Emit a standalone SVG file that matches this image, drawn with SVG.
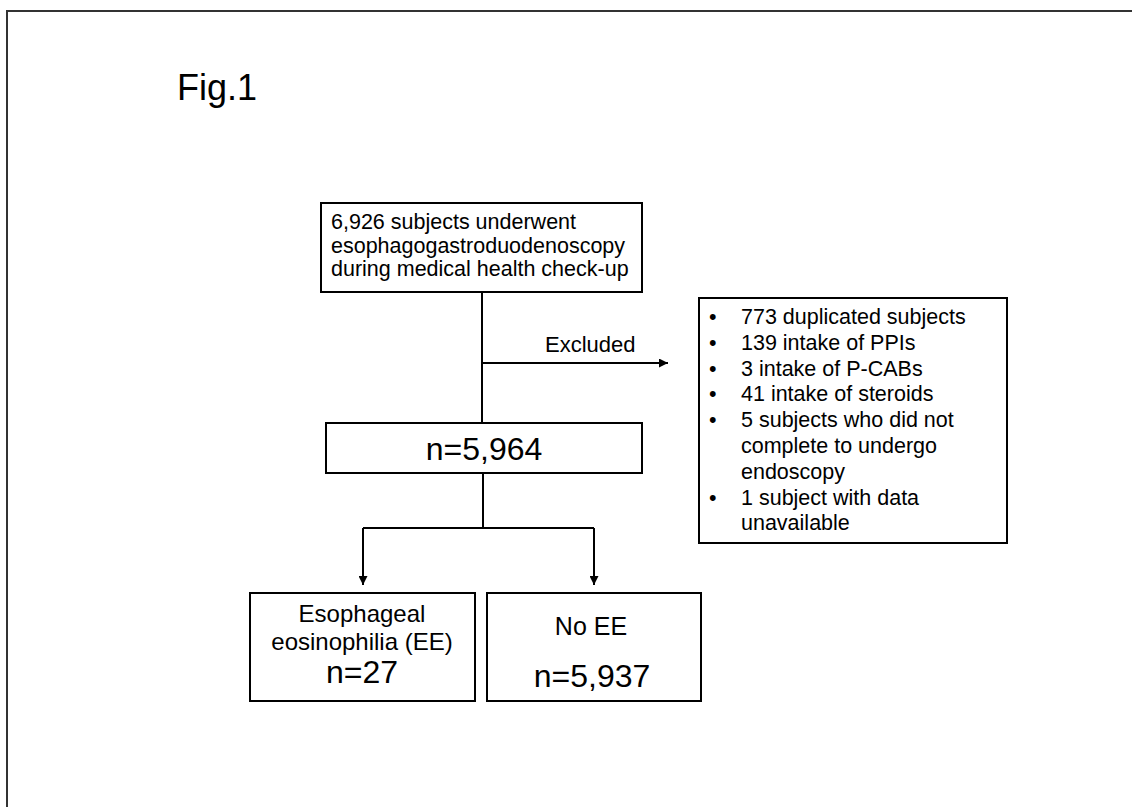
<svg xmlns="http://www.w3.org/2000/svg" width="1132" height="807" viewBox="0 0 1132 807">
<style>
  text { font-family: "Liberation Sans", Arial, sans-serif; fill: #000; }
  .box { fill: #fff; stroke: #000; stroke-width: 2; }
  .conn { fill: none; stroke: #000; stroke-width: 2; }
</style>
<defs>
  <marker id="arr" viewBox="0 0 10 10" refX="10" refY="5" markerWidth="9" markerHeight="9" markerUnits="userSpaceOnUse" orient="auto">
    <path d="M0,0 L10,5 L0,10 z" fill="#000"/>
  </marker>
</defs>
<rect width="1132" height="807" fill="#fff"/>
<path d="M7,807 V11 H1132" fill="none" stroke="#333" stroke-width="2"/>
<text x="177" y="100" font-size="36">Fig.1</text>

<g id="connectors">
  <path class="conn" d="M482,292 V423"/>
  <path class="conn" d="M482,363 H668" marker-end="url(#arr)"/>
  <path class="conn" d="M483,473 V528"/>
  <path class="conn" d="M363,528 H594"/>
  <path class="conn" d="M363,528 V585" marker-end="url(#arr)"/>
  <path class="conn" d="M594,528 V585" marker-end="url(#arr)"/>
  <text x="545" y="352" font-size="22">Excluded</text>
</g>

<g id="start">
  <rect class="box" x="321" y="203" width="321" height="89"/>
  <text x="331" y="229" font-size="21.5">6,926 subjects underwent</text>
  <text x="331" y="252.5" font-size="21.5">esophagogastroduodenoscopy</text>
  <text x="331" y="276" font-size="21.5">during medical health check-up</text>
</g>

<g id="excluded">
  <rect class="box" x="699" y="298" width="308" height="245"/>
  <g font-size="21.5">
    <text x="709" y="324">•</text><text x="741" y="324">773 duplicated subjects</text>
    <text x="709" y="349.8">•</text><text x="741" y="349.8">139 intake of PPIs</text>
    <text x="709" y="375.6">•</text><text x="741" y="375.6">3 intake of P-CABs</text>
    <text x="709" y="401.4">•</text><text x="741" y="401.4">41 intake of steroids</text>
    <text x="709" y="427.2">•</text><text x="741" y="427.2">5 subjects who did not</text>
    <text x="741" y="453">complete to undergo</text>
    <text x="741" y="478.8">endoscopy</text>
    <text x="709" y="504.6">•</text><text x="741" y="504.6">1 subject with data</text>
    <text x="741" y="530.4">unavailable</text>
  </g>
</g>

<g id="total">
  <rect class="box" x="326" y="423" width="316" height="50"/>
  <text x="484" y="460" font-size="32" text-anchor="middle">n=5,964</text>
</g>

<g id="ee">
  <rect class="box" x="250" y="593" width="225" height="108"/>
  <text x="362" y="622" font-size="24" text-anchor="middle">Esophageal</text>
  <text x="362" y="650" font-size="24" text-anchor="middle">eosinophilia (EE)</text>
  <text x="362" y="683" font-size="32" text-anchor="middle">n=27</text>
</g>

<g id="noee">
  <rect class="box" x="487" y="593" width="214" height="108"/>
  <text x="591" y="635" font-size="25" text-anchor="middle">No EE</text>
  <text x="592" y="687" font-size="32" text-anchor="middle">n=5,937</text>
</g>
</svg>
